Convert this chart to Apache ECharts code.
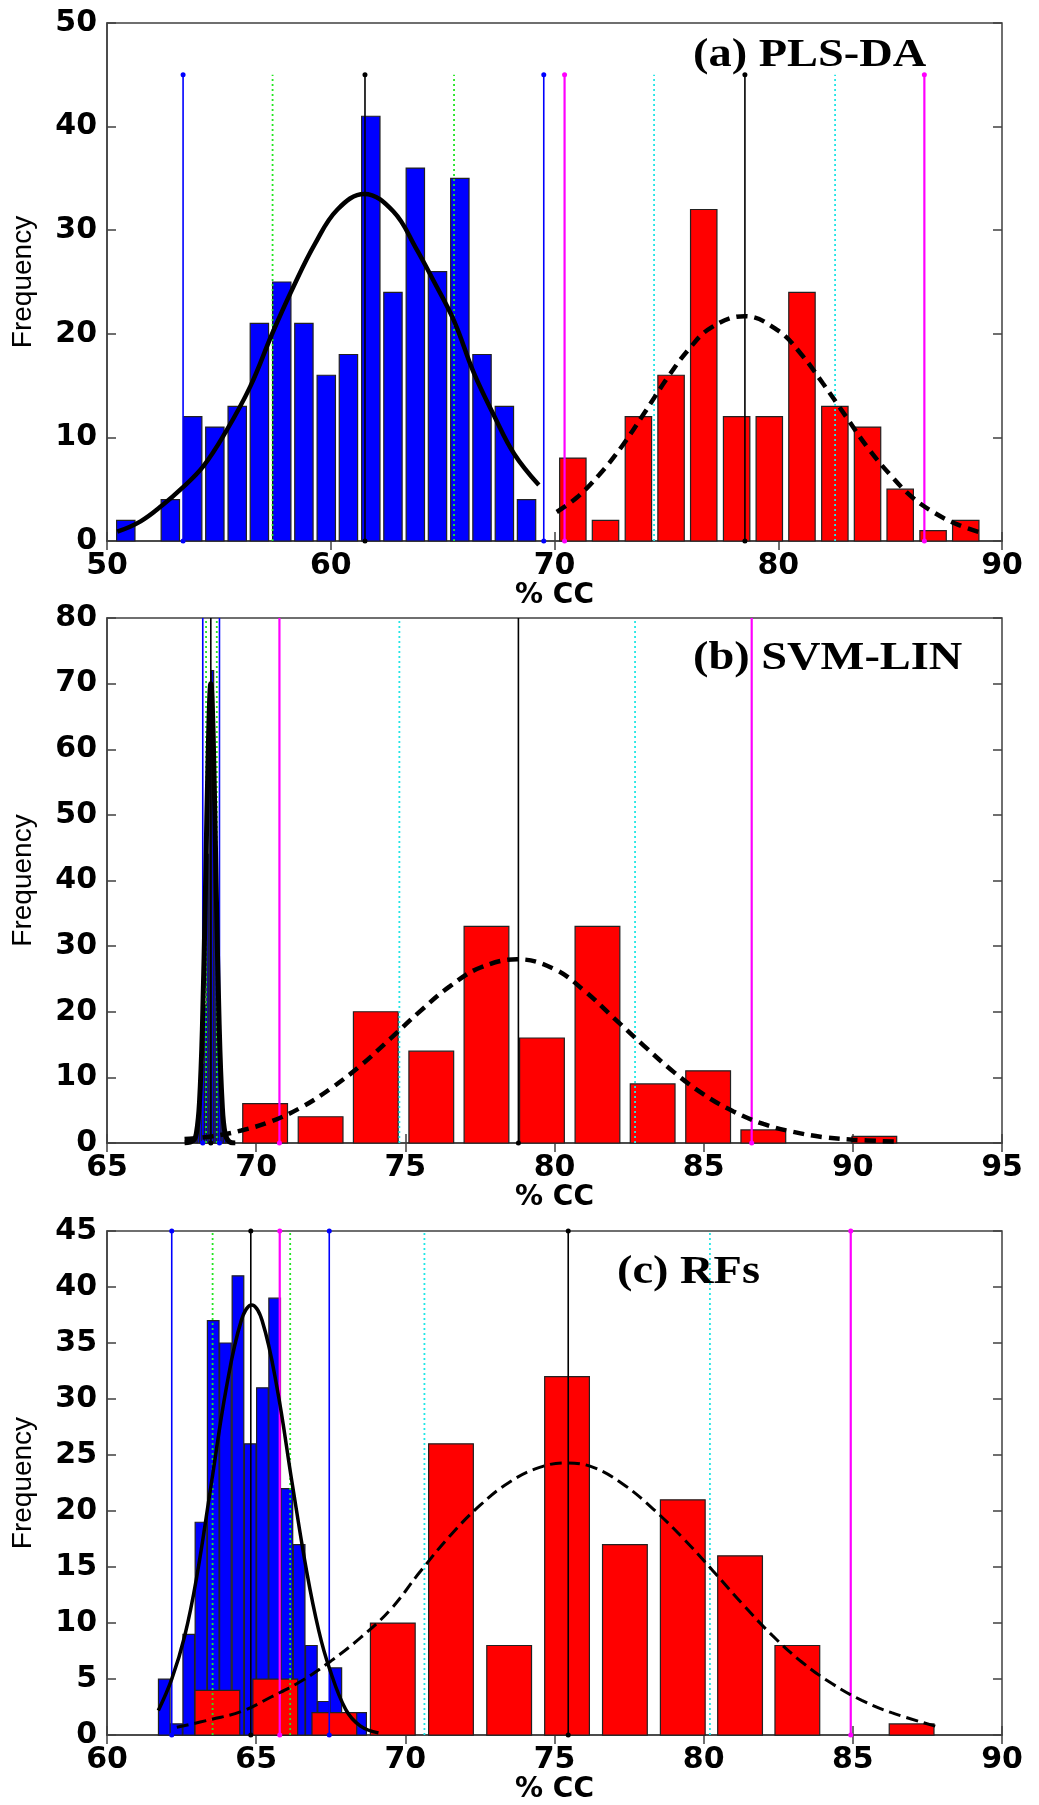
<!DOCTYPE html>
<html>
<head>
<meta charset="utf-8">
<script src="https://cdn.jsdelivr.net/npm/echarts@6/dist/echarts.min.js"></script>
<style>
  html, body { margin: 0; padding: 0; background: #ffffff; }
  #chart { width: 1039px; height: 1805px; }
</style>
</head>
<body>
<div id="chart"></div>
<script>
// ---------- (a) PLS-DA ----------
const plsXTicks = [50, 60, 70, 80, 90];
const plsYTicks = [0, 10, 20, 30, 40, 50];
const plsBlueCenters = [50.84, 51.84, 52.83, 53.83, 54.82, 55.82, 56.81, 57.81, 58.80, 59.80,
                        60.79, 61.79, 62.78, 63.78, 64.77, 65.77, 66.76, 67.76, 68.75];
const plsBlueCounts  = [2, 0, 4, 12, 11, 13, 21, 25, 21, 16, 18, 41, 24, 36, 26, 35, 18, 13, 4];
const plsRedCenters  = [70.82, 72.28, 73.75, 75.21, 76.67, 78.14, 79.60, 81.06, 82.53, 83.99,
                        85.45, 86.92, 88.38];
const plsRedCounts   = [8, 2, 12, 16, 32, 12, 12, 24, 13, 11, 5, 1, 2];
const plsBlueFit = [[50.46, 0.9], [51.5, 1.9], [52.5, 3.5], [53.3, 5.0], [54.3, 7.2], [55.3, 10.5],
                    [56.4, 14.9], [57.4, 20.1], [58.3, 24.4], [59.3, 28.7], [60.3, 32.0], [61.5, 33.5],
                    [62.8, 31.8], [63.8, 28.3], [64.6, 25.1], [65.5, 21.3], [66.4, 16.2], [67.3, 12.1],
                    [68.2, 8.4], [69.3, 5.4]];
const plsRedFit = [[70.1, 2.8], [71, 4.2], [72, 6.4], [73, 9.1], [74, 12.3], [75, 15.6], [76, 18.5],
                   [77, 20.6], [78.5, 21.7], [80, 20.3], [81, 18.1], [82, 15.2], [83, 12.1], [84, 9.0],
                   [85, 6.4], [86, 4.2], [87, 2.7], [88, 1.6], [89, 0.85]];
const plsBlueLimits = [53.40, 69.52];
const plsBlueSpread = [57.40, 65.51];
const plsBlueMean   = [61.53];
const plsRedLimits  = [70.45, 86.53];
const plsRedSpread  = [74.45, 82.54];
const plsRedMean    = [78.51];

// ---------- (b) SVM-LIN ----------
const svmXTicks = [65, 70, 75, 80, 85, 90, 95];
const svmYTicks = [0, 10, 20, 30, 40, 50, 60, 70, 80];
const svmBlueCenters = [67.98, 68.06, 68.14, 68.22, 68.30, 68.38, 68.46, 68.54, 68.62, 68.70,
                        68.78, 68.86, 68.94, 69.02];
const svmBlueCounts  = [1, 2, 6, 12, 21, 44, 63, 72, 48, 22, 14, 8, 2, 1];
const svmRedCenters  = [70.30, 72.16, 74.01, 75.87, 77.72, 79.58, 81.44, 83.29, 85.15, 87.00,
                        88.86, 90.72];
const svmRedCounts   = [6, 4, 20, 14, 33, 16, 33, 9, 11, 2, 0, 1];
const svmBlueFit = [[67.6, 0], [67.9, 0.4], [68.0, 1.6], [68.1, 6.2], [68.2, 18], [68.3, 38.5],
                    [68.4, 61], [68.48, 70], [68.56, 62], [68.66, 39], [68.76, 18], [68.86, 6.0],
                    [68.96, 1.4], [69.1, 0.2], [69.3, 0]];
const svmRedFit = [[67.6, 0.6], [68.5, 1.0], [69.5, 1.9], [70.5, 3.3], [71.5, 5.4], [72.5, 8.3],
                   [73.5, 11.8], [74.5, 15.9], [75.5, 20.1], [76.5, 23.9], [77.5, 26.7], [78.75, 28.0],
                   [80, 26.5], [81, 23.2], [82, 19.0], [83, 14.8], [84, 10.8], [85, 7.4], [86, 4.8],
                   [87, 2.9], [88, 1.7], [89, 0.9], [90, 0.5], [91.5, 0.2]];
const svmBlueLimits = [68.21, 68.77];
const svmBlueSpread = [68.32, 68.68];
const svmBlueMean   = [68.48];
const svmRedLimits  = [70.78, 86.61];
const svmRedSpread  = [74.80, 82.70];
const svmRedMean    = [78.79];

// ---------- (c) RFs ----------
const rfXTicks = [60, 65, 70, 75, 80, 85, 90];
const rfYTicks = [0, 5, 10, 15, 20, 25, 30, 35, 40, 45];
const rfBlueCenters = [61.92, 62.33, 62.74, 63.15, 63.56, 63.97, 64.39, 64.80, 65.21, 65.62,
                       66.03, 66.44, 66.85, 67.26, 67.67, 68.08, 68.50];
const rfBlueCounts  = [5, 1, 9, 19, 37, 35, 41, 26, 31, 39, 22, 17, 8, 3, 6, 2, 2];
const rfRedCenters  = [63.70, 65.64, 67.62, 69.58, 71.53, 73.48, 75.42, 77.36, 79.30, 81.22,
                       83.14, 85.06, 86.97];
const rfRedCounts   = [4, 5, 2, 10, 26, 8, 32, 17, 21, 16, 8, 0, 1];
const rfBlueFit = [[61.72, 2.2], [62.17, 5.0], [62.6, 8.8], [63.0, 14.0], [63.5, 22.5], [64.0, 31.0],
                   [64.5, 37.0], [64.85, 38.4], [65.2, 37.0], [65.7, 31.0], [66.2, 22.6], [66.7, 14.5],
                   [67.1, 9.3], [67.45, 6.0], [68.0, 2.3], [68.5, 0.8], [69.1, 0.2]];
const rfRedFit = [[62.34, 0.7], [63.5, 1.4], [64.5, 2.1], [65.5, 3.4], [66.5, 4.8], [67.5, 6.6],
                  [68.5, 8.7], [69.5, 11.2], [70.5, 14.6], [71.5, 17.8], [72.5, 20.5], [73.5, 22.6],
                  [74.5, 23.9], [75.4, 24.3], [76.3, 23.9], [77.3, 22.4], [78.3, 20.2], [79.3, 17.6],
                  [80.3, 14.7], [81.3, 11.7], [82.3, 8.9], [83.3, 6.5], [84.3, 4.6], [85.3, 3.1],
                  [86.3, 2.0], [87.9, 0.7]];
const rfBlueLimits = [62.17, 67.45];
const rfBlueSpread = [63.54, 66.14];
const rfBlueMean   = [64.82];
const rfRedLimits  = [65.79, 84.93];
const rfRedSpread  = [70.64, 80.21];
const rfRedMean    = [75.46];

const panelTitles = ['(a) PLS-DA', '(b) SVM-LIN', '(c) RFs'];
const xAxisName = '% CC';
const yAxisName = 'Frequency';

// ---------- layout & styling ----------
const C = {
  blue: '#0000ff', red: '#ff0000', magenta: '#ff00ff', cyan: '#22e6e6',
  green: '#22e622', black: '#000000', frame: '#404040', edge: '#222222'
};
const tickFont = { fontFamily: 'DejaVu Sans, sans-serif', fontWeight: 'bold', fontSize: 30, color: '#000' };

const panels = [
  { top: 23, height: 518, xt: plsXTicks, yt: plsYTicks,
    blue: [plsBlueCenters, plsBlueCounts, 0.82], red: [plsRedCenters, plsRedCounts, 1.18],
    blueFit: plsBlueFit, redFit: plsRedFit, redFitW: 4.5, redDash: [11, 7], blueFitW: 4.5,
    lines: [plsBlueLimits, plsBlueSpread, plsBlueMean, plsRedLimits, plsRedSpread, plsRedMean],
    lineTop: 45, dots: 'both', title: [693, 56] },
  { top: 618, height: 525, xt: svmXTicks, yt: svmYTicks,
    blue: [svmBlueCenters, svmBlueCounts, 0.07], red: [svmRedCenters, svmRedCounts, 1.5],
    blueFit: svmBlueFit, redFit: svmRedFit, redFitW: 4.5, redDash: [11, 7], blueFitW: 5,
    lines: [svmBlueLimits, svmBlueSpread, svmBlueMean, svmRedLimits, svmRedSpread, svmRedMean],
    lineTop: 80, dots: 'bottom', title: [693, 659] },
  { top: 1231, height: 518, xt: rfXTicks, yt: rfYTicks,
    blue: [rfBlueCenters, rfBlueCounts, 0.39], red: [rfRedCenters, rfRedCounts, 1.5],
    blueFit: rfBlueFit, redFit: rfRedFit, redFitW: 3, redDash: [12, 6], blueFitW: 3.5,
    lines: [rfBlueLimits, rfBlueSpread, rfBlueMean, rfRedLimits, rfRedSpread, rfRedMean],
    lineTop: 45, dots: 'both', title: [617, 1273] }
];

const grids = [], xAxes = [], yAxes = [], series = [], graphics = [];

function axisRange(t) {
  return { min: t[0], max: t[t.length - 1], interval: t[1] - t[0] };
}

function histogram(g, centers, counts, width, color) {
  return {
    type: 'custom', xAxisIndex: g, yAxisIndex: g, z: 2, silent: true,
    data: centers.map((c, i) => [c, counts[i]]),
    renderItem: function (params, api) {
      const x = api.value(0), y = api.value(1);
      if (!y) return null;
      const a = api.coord([x - width / 2, y]);
      const b = api.coord([x + width / 2, 0]);
      return {
        type: 'rect',
        shape: { x: a[0], y: a[1], width: b[0] - a[0], height: b[1] - a[1] },
        style: { fill: color, stroke: C.edge, lineWidth: 1.2 }
      };
    }
  };
}

function vline(g, x, top, color, width, dash, dots) {
  const showTop = dots === 'both';
  return {
    type: 'line', xAxisIndex: g, yAxisIndex: g, z: 3, silent: true,
    data: [
      { value: [x, 0], symbol: dash ? 'none' : 'circle' },
      { value: [x, top], symbol: (!dash && showTop) ? 'circle' : 'none' }
    ],
    symbolSize: 5, showSymbol: true,
    itemStyle: { color: color },
    lineStyle: { color: color, width: width, type: dash || 'solid' },
    animation: false
  };
}

function fitCurve(g, pts, width, dash) {
  return {
    type: 'line', xAxisIndex: g, yAxisIndex: g, z: 4, silent: true,
    data: pts, smooth: 0.4, symbol: 'none',
    lineStyle: { color: C.black, width: width, type: dash || 'solid', cap: 'butt' },
    animation: false
  };
}

panels.forEach((p, g) => {
  grids.push({ left: 107, right: 37, top: p.top, height: p.height,
               show: true, borderColor: C.frame, borderWidth: 1.5, backgroundColor: '#fff' });
  const xr = axisRange(p.xt), yr = axisRange(p.yt);
  xAxes[g] = {
    type: 'value', gridIndex: g, position: 'bottom', ...xr,
    name: xAxisName, nameLocation: 'middle', nameGap: 35,
    nameTextStyle: { fontFamily: 'DejaVu Sans, sans-serif', fontWeight: 'bold', fontSize: 28, color: '#000' },
    axisLine: { show: true, onZero: false, lineStyle: { color: C.frame, width: 1.5 } },
    axisTick: { show: true, inside: true, length: 9, lineStyle: { color: C.frame, width: 1.5 } },
    axisLabel: { ...tickFont, margin: 10 },
    splitLine: { show: false }
  };
  xAxes[g + 3] = {
    type: 'value', gridIndex: g, position: 'top', ...xr,
    axisLine: { show: false },
    axisTick: { show: true, inside: true, length: 9, lineStyle: { color: C.frame, width: 1.5 } },
    axisLabel: { show: false }, splitLine: { show: false }
  };
  yAxes[g] = {
    type: 'value', gridIndex: g, position: 'left', ...yr,
    name: yAxisName, nameLocation: 'middle', nameGap: 70, nameRotate: 90,
    nameTextStyle: { fontFamily: 'Liberation Sans, Arial, sans-serif', fontSize: 28, color: '#000' },
    axisLine: { show: true, lineStyle: { color: C.frame, width: 1.5 } },
    axisTick: { show: true, inside: true, length: 9, lineStyle: { color: C.frame, width: 1.5 } },
    axisLabel: { ...tickFont, margin: 10 },
    splitLine: { show: false }
  };
  yAxes[g + 3] = {
    type: 'value', gridIndex: g, position: 'right', ...yr,
    axisLine: { show: false },
    axisTick: { show: true, inside: true, length: 9, lineStyle: { color: C.frame, width: 1.5 } },
    axisLabel: { show: false }, splitLine: { show: false }
  };

  series.push(histogram(g, p.blue[0], p.blue[1], p.blue[2], C.blue));
  series.push(histogram(g, p.red[0], p.red[1], p.red[2], C.red));

  const [bl, bs, bm, rl, rs, rm] = p.lines;
  bl.forEach(x => series.push(vline(g, x, p.lineTop, C.blue, 1.6, null, p.dots)));
  bs.forEach(x => series.push(vline(g, x, p.lineTop, C.green, 1.8, [2, 3], p.dots)));
  bm.forEach(x => series.push(vline(g, x, p.lineTop, C.black, 1.6, null, p.dots)));
  rl.forEach(x => series.push(vline(g, x, p.lineTop, C.magenta, 2.2, null, p.dots)));
  rs.forEach(x => series.push(vline(g, x, p.lineTop, C.cyan, 1.8, [2, 3], p.dots)));
  rm.forEach(x => series.push(vline(g, x, p.lineTop, C.black, 1.6, null, p.dots)));

  series.push(fitCurve(g, p.blueFit, p.blueFitW, null));
  series.push(fitCurve(g, p.redFit, p.redFitW, p.redDash));

  // panel caption, set in a slightly widened bold serif
  graphics.push({
    type: 'text', x: p.title[0], y: p.title[1], scaleX: 1.16, z: 10,
    style: {
      text: panelTitles[g], fill: '#000',
      font: 'bold 40px "Liberation Serif", "Times New Roman", serif',
      textAlign: 'left', textVerticalAlign: 'middle'
    }
  });
});

const chart = echarts.init(document.getElementById('chart'), null, { renderer: 'canvas' });
chart.setOption({
  animation: false,
  backgroundColor: '#ffffff',
  grid: grids,
  xAxis: xAxes,
  yAxis: yAxes,
  series: series,
  graphic: graphics
});
</script>
</body>
</html>
